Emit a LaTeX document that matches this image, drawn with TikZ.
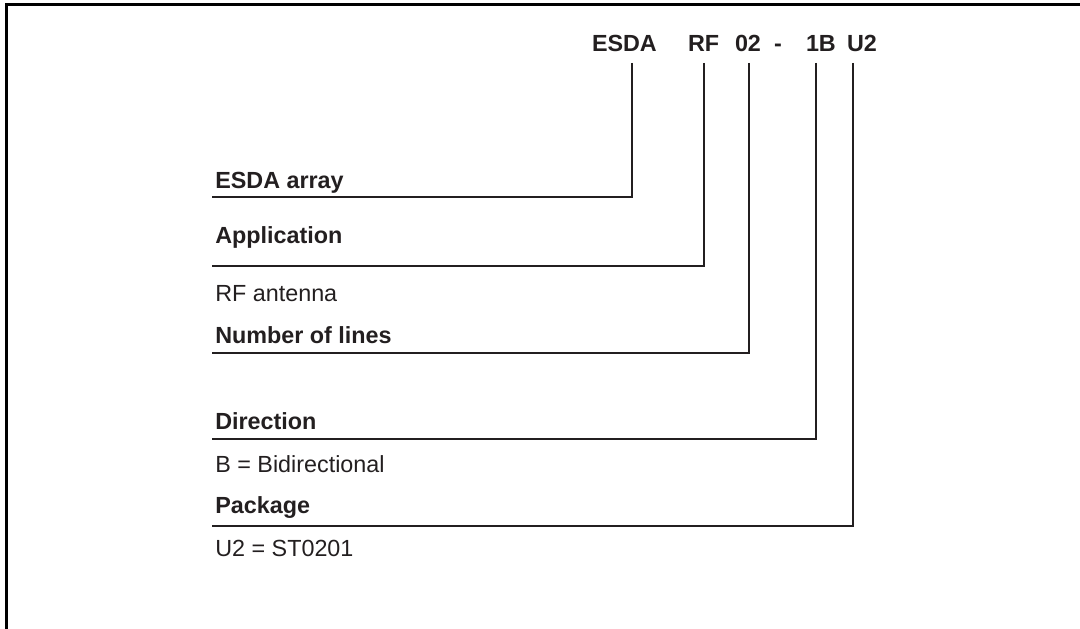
\documentclass[tikz,border=0pt]{standalone}
\usepackage{fontspec}
\setmainfont{Liberation Sans}
\definecolor{ink}{HTML}{231F20}
\tikzset{
  code/.style={font=\bfseries\fontsize{16.6}{20}\selectfont, anchor=base west,
    inner sep=0pt, outer xsep=0pt, outer ysep=2.75mm, text depth=0pt},
  field/.style={font=\bfseries\fontsize{16.6}{20}\selectfont, anchor=base west, inner sep=0pt},
  note/.style={font=\fontsize{16.6}{20}\selectfont, anchor=base west, inner sep=0pt},
  leader/.style={draw=ink, line width=1.3pt},
}
\begin{document}
\begin{tikzpicture}[x=0.025cm, y=-0.025cm, color=ink]
  \useasboundingbox (0,0) rectangle (1080,629);
  \clip (0,0) rectangle (1080,629);
  % frame
  \draw[black, line width=1.8pt] (6.5,640) -- (6.5,4.5) -- (1090,4.5);
  % part number
  \node[code] (esda) at (592,52) {ESDA};
  \node[code] (rf)   at (688,52) {RF};
  \node[code] (nl)   at (735,52) {02};
  \node[code] (dash) at (774,52) {-};
  \node[code] (dir)  at (806,52) {1B};
  \node[code] (pkg)  at (847,52) {U2};
  % corners and left ends of the leaders
  \coordinate (c1) at (632,197);
  \coordinate (c2) at (704,266);
  \coordinate (c3) at (749,353);
  \coordinate (c4) at (816,439);
  \coordinate (c5) at (853,526);
  \coordinate (u1) at (212,197);
  \coordinate (u2) at (212,266);
  \coordinate (u3) at (212,353);
  \coordinate (u4) at (212,439);
  \coordinate (u5) at (212,526);
  % fields
  \node[field] (farr) at (215,188.3) {ESDA array};
  \node[field] (fapp) at (215,243.3) {Application};
  \node[note]  (napp) at (215,301.7) {RF antenna};
  \node[field] (fnum) at (215,343.3) {Number of lines};
  \node[field] (fdir) at (215,430)   {Direction};
  \node[note]  (ndir) at (215,472.7) {B = Bidirectional};
  \node[field] (fpkg) at (215,513.3) {Package};
  \node[note]  (npkg) at (215,556.7) {U2 = ST0201};
  % leaders
  \draw[leader] (esda.south -| c1) -- (c1) -- (u1);
  \draw[leader] (rf.south -| c2)   -- (c2) -- (u2);
  \draw[leader] (nl.south -| c3)   -- (c3) -- (u3);
  \draw[leader] (dir.south -| c4)  -- (c4) -- (u4);
  \draw[leader] (pkg.south -| c5)  -- (c5) -- (u5);
\end{tikzpicture}
\end{document}
